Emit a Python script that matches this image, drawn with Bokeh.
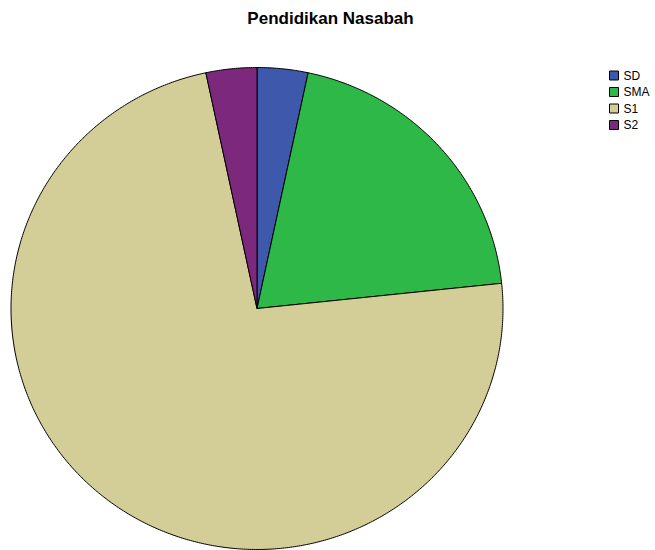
import numpy as np
from bokeh.plotting import figure
from bokeh.models import Range1d, ColumnDataSource
from bokeh.core.properties import value
from bokeh.embed import file_html
from bokeh.resources import INLINE

# Data
categories = ["SD", "SMA", "S1", "S2"]
counts = [1, 6, 22, 1]
colors = ["#3E58AC", "#2EB848", "#D3CE97", "#7C287D"]
title = "Pendidikan Nasabah"

W, H = 655, 550
cx, cy, rx, ry = 256.5, 308.0, 246.0, 241.0

p = figure(width=W, height=H, output_backend="svg", toolbar_location=None,
           x_range=Range1d(0, W), y_range=Range1d(H, 0), min_border=0,
           background_fill_color="white", border_fill_color="white")
p.axis.visible = False
p.grid.visible = False
p.outline_line_color = None

total = float(sum(counts))
fracs = np.array(counts) / total
ends = np.cumsum(fracs) * 2 * np.pi
starts = np.concatenate([[0.0], ends[:-1]])

xs, ys = [], []
for s, e in zip(starts, ends):
    t = np.linspace(s, e, max(4, int((e - s) * 120)))
    px = np.concatenate([[cx], cx + rx * np.sin(t), [cx]])
    py = np.concatenate([[cy], cy - ry * np.cos(t), [cy]])
    xs.append(list(px))
    ys.append(list(py))

src = ColumnDataSource(dict(xs=xs, ys=ys, color=colors, cat=categories))
p.patches("xs", "ys", source=src, fill_color="color", line_color="black", line_width=1)

# Title
p.text(x=[330], y=[18], text=[title], text_font=value("Liberation Sans"),
       text_font_style="bold", text_font_size="17px", text_align="center",
       text_baseline="middle", text_color="black")

# Legend
ly = [75, 91.5, 108, 124.5]
leg = ColumnDataSource(dict(x=[613.5] * 4, y=ly, color=colors, cat=categories,
                            tx=[623] * 4))
p.rect(x="x", y="y", width=9, height=9, source=leg, fill_color="color",
       line_color="black", line_width=1)
p.text(x="tx", y="y", text="cat", source=leg, text_font=value("Liberation Sans"),
       text_font_size="12px", text_baseline="middle", text_align="left",
       text_color="black")

open("out.html", "w").write(file_html(p, INLINE))
